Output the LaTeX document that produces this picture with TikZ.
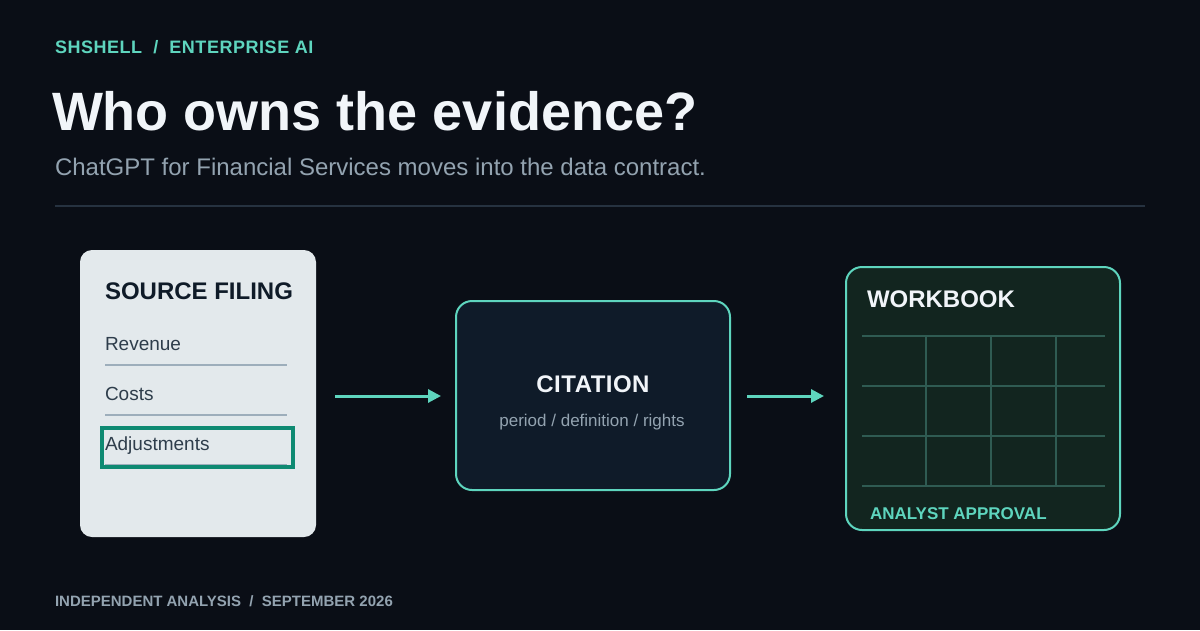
\documentclass[tikz,border=0pt]{standalone}
\usepackage{fontspec}
\setmainfont{Liberation Sans}
\usetikzlibrary{arrows.meta}
\definecolor{bg}{HTML}{0A0E16}
\definecolor{teal}{HTML}{5ED5BE}
\definecolor{titlec}{HTML}{F1F5F9}
\definecolor{subc}{HTML}{93A3B0}
\definecolor{rulec}{HTML}{263240}
\definecolor{srcfill}{HTML}{E3E9EC}
\definecolor{srctitle}{HTML}{0F1B28}
\definecolor{itemc}{HTML}{2E3D4B}
\definecolor{ulc}{HTML}{9DAEBB}
\definecolor{hlc}{HTML}{0E8A72}
\definecolor{citfill}{HTML}{0F1B29}
\definecolor{wbfill}{HTML}{12251F}
\definecolor{gridc}{HTML}{2F5B52}
\tikzset{
  txt/.style={anchor=base west, inner sep=0pt, outer sep=0pt},
  box/.style={anchor=north west, inner sep=0pt, outer sep=0pt},
  arr/.style={draw=teal, line width=3pt, -{Triangle[length=13pt,width=13pt]}},
  ul/.style={draw=ulc, line width=2pt},
  gridl/.style={draw=gridc, line width=2pt},
}
\begin{document}
\begin{tikzpicture}[x=1pt,y=-1pt]
\fill[bg] (0,0) rectangle (1200,630);
\useasboundingbox (0,0) rectangle (1200,630);
% header
\node[txt, text=teal, font=\bfseries\fontsize{18}{21}\selectfont\addfontfeatures{LetterSpace=3}] (kicker) at (55,53) {SHSHELL\ \ /\ \ ENTERPRISE AI};
\node[txt, text=titlec, font=\bfseries\fontsize{54}{60}\selectfont] (title) at (52,130) {Who owns the evidence?};
\node[txt, text=subc, font=\fontsize{24}{28}\selectfont] (sub) at (55,175) {ChatGPT for Financial Services moves into the data contract.};
\draw[draw=rulec, line width=2pt] (55,206) -- (1145,206);
% source filing
\node[box, fill=srcfill, rounded corners=12pt, minimum width=236pt, minimum height=287pt] (src) at (80,250) {};
\node[txt, text=srctitle, font=\bfseries\fontsize{24}{28}\selectfont] (srct) at (105,299) {SOURCE FILING};
\node[txt, text=itemc, font=\fontsize{19}{23}\selectfont] (rev) at (105,350) {Revenue};
\node[txt, text=itemc, font=\fontsize{19}{23}\selectfont] (cost) at (105,400) {Costs};
\node[txt, text=itemc, font=\fontsize{19}{23}\selectfont] (adj) at (105,450) {Adjustments};
\draw[ul] (105,364.5) -- (287,364.5);
\draw[ul] (105,414.5) -- (287,414.5);
\draw[ul] (105,464.5) -- (287,464.5);
\draw[draw=hlc, line width=3.5pt] (102,428) rectangle (293,467);
% citation
\node[box, fill=citfill, draw=teal, line width=2pt, rounded corners=16pt, minimum width=274pt, minimum height=189pt] (cit) at (456,301) {};
\node[anchor=base, inner sep=0pt, text=titlec, font=\bfseries\fontsize{24}{28}\selectfont\addfontfeatures{LetterSpace=2}] (citt) at (593,392) {CITATION};
\node[anchor=base, inner sep=0pt, text=subc, font=\fontsize{17}{20}\selectfont] (cits) at (592,426) {period / definition / rights};
% workbook
\node[box, fill=wbfill, draw=teal, line width=2pt, rounded corners=16pt, minimum width=274pt, minimum height=263pt] (wb) at (846,267) {};
\node[txt, text=titlec, font=\bfseries\fontsize{24}{28}\selectfont] (wbt) at (867,307) {WORKBOOK};
\foreach \yy in {336,386,436,486} \draw[gridl] (862,\yy) -- (1105,\yy);
\foreach \xx in {926,991,1056} \draw[gridl] (\xx,336) -- (\xx,486);
\node[txt, text=teal, font=\bfseries\fontsize{17}{20}\selectfont] (appr) at (870,519) {ANALYST APPROVAL};
% arrows
\coordinate (a1s) at (335,396);
\coordinate (a1e) at (441,396);
\coordinate (a2s) at (747,396);
\coordinate (a2e) at (824,396);
\draw[arr] (a1s) -- (a1e);
\draw[arr] (a2s) -- (a2e);
% footer
\node[txt, text=subc, font=\bfseries\fontsize{15}{18}\selectfont] (foot) at (55,606) {INDEPENDENT ANALYSIS\ \ /\ \ SEPTEMBER 2026};
\end{tikzpicture}
\end{document}
